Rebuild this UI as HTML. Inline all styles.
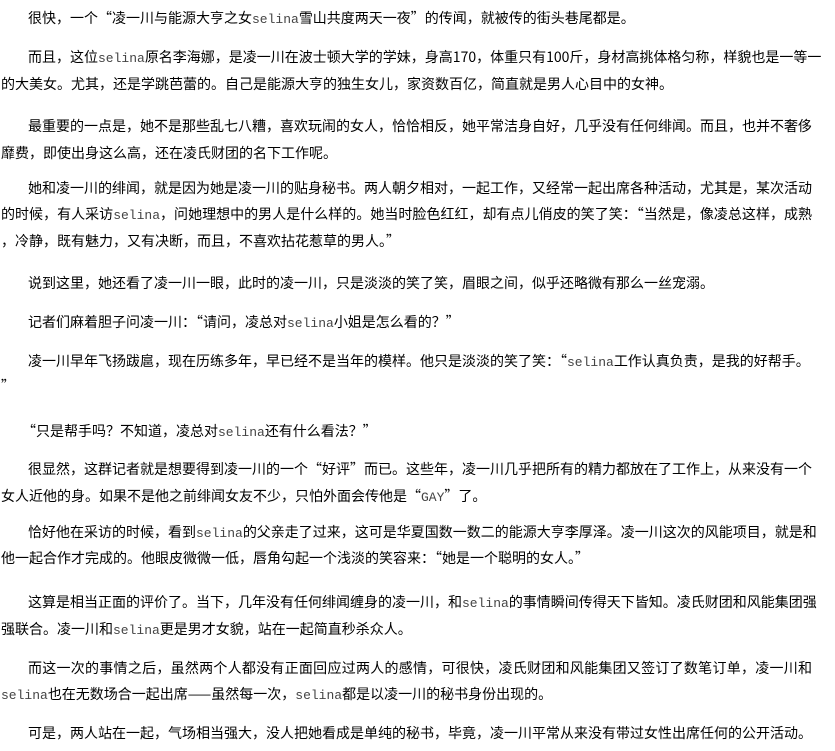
<!DOCTYPE html>
<html><head><meta charset="utf-8"><style>
body{margin:0;width:835px;height:751px;background:#fff;overflow:hidden;position:relative;font-family:"Noto Sans CJK SC","Liberation Sans",sans-serif;font-size:14px;color:#000}
.l{position:absolute;left:1px;white-space:nowrap;line-height:18px}
.f{width:811px;text-align:justify;text-align-last:justify}
.i{left:28px}
.i.f{width:784px}
.e{font-family:"Liberation Mono",monospace;color:#444;font-size:13px}
</style></head><body>
<div class="l i" style="top:9px">很快，一个“凌一川与能源大亨之女<span class="e">selina</span>雪山共度两天一夜”的传闻，就被传的街头巷尾都是。</div>
<div class="l i f" style="top:48px">而且，这位<span class="e">selina</span>原名李海娜，是凌一川在波士顿大学的学妹，身高170，体重只有100斤，身材高挑体格匀称，样貌也是一等一</div>
<div class="l" style="top:75px">的大美女。尤其，还是学跳芭蕾的。自己是能源大亨的独生女儿，家资数百亿，简直就是男人心目中的女神。</div>
<div class="l i f" style="top:117px">最重要的一点是，她不是那些乱七八糟，喜欢玩闹的女人，恰恰相反，她平常洁身自好，几乎没有任何绯闻。而且，也并不奢侈</div>
<div class="l" style="top:144px">靡费，即使出身这么高，还在凌氏财团的名下工作呢。</div>
<div class="l i f" style="top:179px">她和凌一川的绯闻，就是因为她是凌一川的贴身秘书。两人朝夕相对，一起工作，又经常一起出席各种活动，尤其是，某次活动</div>
<div class="l f" style="top:205px">的时候，有人采访<span class="e">selina</span>，问她理想中的男人是什么样的。她当时脸色红红，却有点儿俏皮的笑了笑：“当然是，像凌总这样，成熟</div>
<div class="l" style="top:232px">，冷静，既有魅力，又有决断，而且，不喜欢拈花惹草的男人。”</div>
<div class="l i" style="top:274px">说到这里，她还看了凌一川一眼，此时的凌一川，只是淡淡的笑了笑，眉眼之间，似乎还略微有那么一丝宠溺。</div>
<div class="l i" style="top:313px">记者们麻着胆子问凌一川：“请问，凌总对<span class="e">selina</span>小姐是怎么看的？”</div>
<div class="l i" style="top:352px">凌一川早年飞扬跋扈，现在历练多年，早已经不是当年的模样。他只是淡淡的笑了笑：“<span class="e">selina</span>工作认真负责，是我的好帮手。</div>
<div class="l" style="top:377px">”</div>
<div class="l" style="top:422px;left:22px">“只是帮手吗？不知道，凌总对<span class="e">selina</span>还有什么看法？”</div>
<div class="l i f" style="top:460px">很显然，这群记者就是想要得到凌一川的一个“好评”而已。这些年，凌一川几乎把所有的精力都放在了工作上，从来没有一个</div>
<div class="l" style="top:487px">女人近他的身。如果不是他之前绯闻女友不少，只怕外面会传他是“<span class="e">GAY</span>”了。</div>
<div class="l i f" style="top:523px">恰好他在采访的时候，看到<span class="e">selina</span>的父亲走了过来，这可是华夏国数一数二的能源大亨李厚泽。凌一川这次的风能项目，就是和</div>
<div class="l" style="top:549px">他一起合作才完成的。他眼皮微微一低，唇角勾起一个浅淡的笑容来：“她是一个聪明的女人。”</div>
<div class="l i f" style="top:593px">这算是相当正面的评价了。当下，几年没有任何绯闻缠身的凌一川，和<span class="e">selina</span>的事情瞬间传得天下皆知。凌氏财团和风能集团强</div>
<div class="l" style="top:620px">强联合。凌一川和<span class="e">selina</span>更是男才女貌，站在一起简直秒杀众人。</div>
<div class="l i f" style="top:659px">而这一次的事情之后，虽然两个人都没有正面回应过两人的感情，可很快，凌氏财团和风能集团又签订了数笔订单，凌一川和</div>
<div class="l" style="top:685px"><span class="e">selina</span>也在无数场合一起出席——虽然每一次，<span class="e">selina</span>都是以凌一川的秘书身份出现的。</div>
<div class="l i" style="top:724px">可是，两人站在一起，气场相当强大，没人把她看成是单纯的秘书，毕竟，凌一川平常从来没有带过女性出席任何的公开活动。</div>
</body></html>
